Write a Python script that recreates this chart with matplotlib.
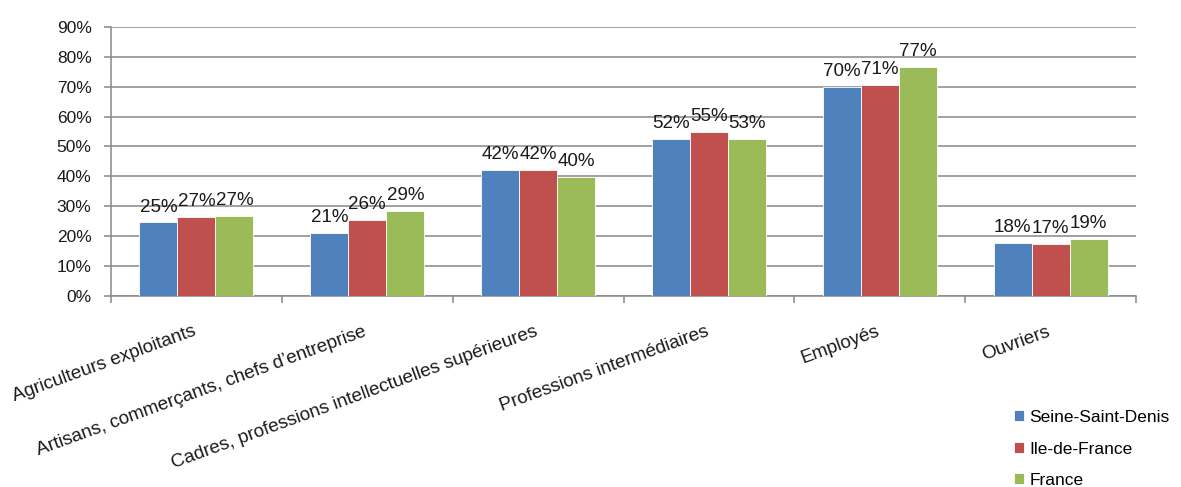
import numpy as np
import matplotlib.pyplot as plt
import matplotlib.transforms as mtransforms

plt.rcParams['font.family'] = ['Liberation Sans', 'DejaVu Sans']

# ─── Data ─────────────────────────────────────────────────────────────
categories = [
    "Agriculteurs exploitants",
    "Artisans, commerçants, chefs d\u2019entreprise",
    "Cadres, professions intellectuelles supérieures",
    "Professions intermédiaires",
    "Employés",
    "Ouvriers",
]
series_names = ["Seine-Saint-Denis", "Ile-de-France", "France"]
seine_saint_denis = [24.6, 21.0, 42.1, 52.4, 70.0, 17.6]
ile_de_france = [26.5, 25.5, 42.0, 54.8, 70.6, 17.3]
france = [26.9, 28.5, 39.8, 52.6, 76.5, 19.1]
labels_ssd = ["25%", "21%", "42%", "52%", "70%", "18%"]
labels_idf = ["27%", "26%", "42%", "55%", "71%", "17%"]
labels_fr = ["27%", "29%", "40%", "53%", "77%", "19%"]
colors = ["#4F81BD", "#C0504D", "#9BBB59"]

# ─── Plot ─────────────────────────────────────────────────────────────
fig = plt.figure(figsize=(11.81, 4.87), dpi=100)
ax = fig.add_axes([0.094, 0.392, 0.868, 0.553])

x = np.arange(len(categories))
w = 1 / 4.5  # Excel gap width 150%
series = [seine_saint_denis, ile_de_france, france]
labels = [labels_ssd, labels_idf, labels_fr]
handles = []
for i, (vals, labs, c) in enumerate(zip(series, labels, colors)):
    bars = ax.bar(x + (i - 1) * w, vals, width=w, color=c, edgecolor="white",
                  linewidth=0.6, zorder=3)
    handles.append(bars)
    for b, lab in zip(bars, labs):
        ax.annotate(lab, (b.get_x() + b.get_width() / 2, b.get_height()),
                    xytext=(0, 5), textcoords="offset points",
                    ha="center", va="bottom", fontsize=13.5, color="#1a1a1a")

ax.set_xlim(-0.5, len(categories) - 0.5)
ax.set_ylim(0, 90)
ax.set_yticks(np.arange(0, 91, 10))
ax.set_yticklabels([f"{v}%" for v in range(0, 91, 10)], fontsize=12.5, color="#1a1a1a")
ax.yaxis.grid(True, color="#888888", linewidth=1.1, zorder=0)
ax.set_axisbelow(True)

# category boundary ticks
ax.set_xticks(np.arange(-0.5, len(categories), 1.0))
ax.set_xticklabels([])
ax.tick_params(axis="x", length=5, color="#888888", width=1.1)
ax.tick_params(axis="y", length=5, color="#888888", width=1.1, pad=9)

for side in ["top", "right"]:
    ax.spines[side].set_visible(False)
for side in ["left", "bottom"]:
    ax.spines[side].set_color("#888888")
    ax.spines[side].set_linewidth(1.1)

# rotated category labels, right end under the group centre
offset = mtransforms.ScaledTranslation(-4 / 100, -27 / 100, fig.dpi_scale_trans)
for xi, cat in zip(x, categories):
    ax.text(xi, 0, cat, transform=ax.get_xaxis_transform() + offset,
            rotation=20, rotation_mode="anchor", ha="right", va="top",
            fontsize=13.6, color="#1a1a1a")

leg = fig.legend(handles, series_names, loc="upper left",
                 bbox_to_anchor=(0.845, 0.19), frameon=False,
                 fontsize=12.5, handlelength=0.6, handleheight=0.6,
                 handletextpad=0.3, labelspacing=0.95)

plt.savefig("out.png", dpi=100)
plt.close(fig)
